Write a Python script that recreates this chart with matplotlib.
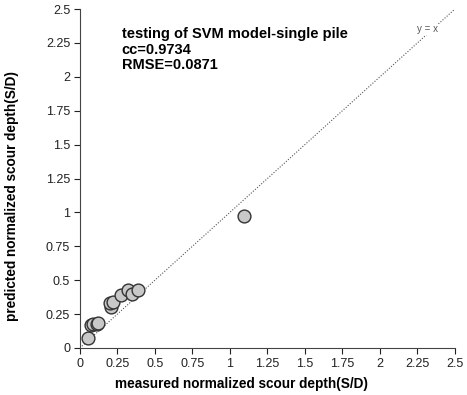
import matplotlib
matplotlib.use("Agg")
import matplotlib.pyplot as plt
import numpy as np

measured = [0.053, 0.075, 0.085, 0.115, 0.12, 0.209, 0.198, 0.22, 0.276, 0.32, 0.35, 0.387, 1.093]
predicted = [0.071, 0.17, 0.175, 0.18, 0.188, 0.305, 0.33, 0.342, 0.39, 0.428, 0.40, 0.428, 0.974]
ticks = [0, 0.25, 0.5, 0.75, 1, 1.25, 1.5, 1.75, 2, 2.25, 2.5]
tick_labels = ["0", "0.25", "0.5", "0.75", "1", "1.25", "1.5", "1.75", "2", "2.25", "2.5"]

plt.rcParams['font.family'] = ['Liberation Sans', 'DejaVu Sans']

fig = plt.figure(figsize=(4.67, 3.95), dpi=100)
ax = fig.add_axes([0.171, 0.119, 0.803, 0.858])

ax.plot([0, 2.5], [0, 2.5], linestyle=(0, (1, 1.5)), color='#555555', linewidth=0.8, zorder=1)
ax.text(2.32, 2.35, "y = x", fontsize=7, color='#555555', ha='center', va='center', zorder=2,
        bbox=dict(facecolor='white', edgecolor='none', pad=0.5))
ax.scatter(measured, predicted, s=85, facecolor='#c8c8c8', edgecolor='#333333', linewidth=1.0, zorder=3)

ax.set_xlim(0, 2.5)
ax.set_ylim(0, 2.5)
ax.set_xticks(ticks)
ax.set_xticklabels(tick_labels)
ax.set_yticks(ticks)
ax.set_yticklabels(tick_labels)
ax.tick_params(direction='out', length=4, width=0.8, labelsize=9, colors='#222222', pad=3)
for side in ['top', 'right']:
    ax.spines[side].set_visible(False)
for side in ['left', 'bottom']:
    ax.spines[side].set_color('#444444')
    ax.spines[side].set_linewidth(0.8)

ax.set_xlabel("measured normalized scour depth(S/D)", fontsize=9.8, fontweight='bold')
ax.set_ylabel("predicted normalized scour depth(S/D)", fontsize=9.8, fontweight='bold')
ax.xaxis.set_label_coords(0.432, -0.085)
ax.yaxis.set_label_coords(-0.163, 0.448)

ax.text(0.28, 2.2, "testing of SVM model-single pile\ncc=0.9734\nRMSE=0.0871", fontsize=10.5,
        fontweight='bold', ha='left', va='center', linespacing=1.15)

fig.savefig("out.png", dpi=100)
